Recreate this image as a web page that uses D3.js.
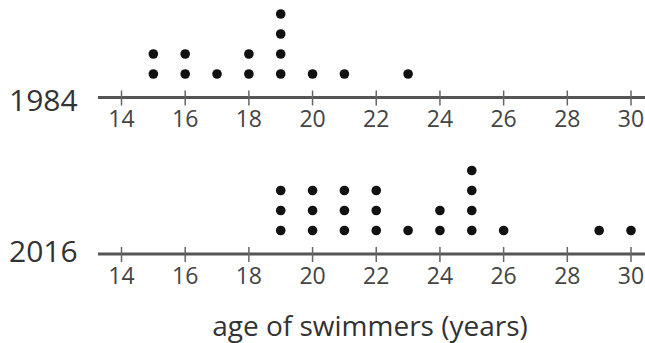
<!DOCTYPE html>
<html><head><meta charset="utf-8">
<script src="https://cdn.jsdelivr.net/npm/d3@7"></script>
<style>html,body{margin:0;padding:0;background:#fff;}svg{display:block;}</style>
</head><body>
<svg id="c" width="645" height="343"></svg>
<script>
const years = ["1984", "2016"];
const ages1984 = [15, 16, 17, 18, 19, 20, 21, 23];
const counts1984 = [2, 2, 1, 2, 4, 1, 1, 1];
const ages2016 = [19, 20, 21, 22, 23, 24, 25, 26, 29, 30];
const counts2016 = [3, 3, 3, 3, 1, 2, 4, 1, 1, 1];
const tickValues = [14, 16, 18, 20, 22, 24, 26, 28, 30];
const axisTitle = "age of swimmers (years)";

const svg = d3.select("#c");
const font = "'Open Sans', sans-serif";
const x = d3.scaleLinear().domain([14, 30]).range([121.5, 631]);
const stack = d3.scaleLinear().domain([1, 4]).range([0, -60]);

const panels = [
  {label: years[0], ages: ages1984, counts: counts1984, axisY: 97.5, labelBase: 111, tickBase: 127},
  {label: years[1], ages: ages2016, counts: counts2016, axisY: 254, labelBase: 262, tickBase: 284}
];

panels.forEach(p => {
  const g = svg.append("g");
  g.append("line").attr("x1", 98).attr("x2", 645).attr("y1", p.axisY).attr("y2", p.axisY)
    .attr("stroke", "#555").attr("stroke-width", 3);
  g.selectAll(".tick").data(tickValues).join("line")
    .attr("x1", d => x(d)).attr("x2", d => x(d))
    .attr("y1", p.axisY - 7).attr("y2", p.axisY + 8)
    .attr("stroke", "#666").attr("stroke-width", 1.5);
  g.selectAll(".tl").data(tickValues).join("text")
    .attr("x", d => x(d)).attr("y", p.tickBase)
    .attr("text-anchor", "middle").attr("font-family", font).attr("font-size", 23)
    .attr("fill", "#444").text(d => d);
  g.append("text").attr("x", 9).attr("y", p.labelBase)
    .attr("font-family", font).attr("font-size", 30).attr("fill", "#333").text(p.label);
  const pts = [];
  p.ages.forEach((a, i) => { for (let k = 1; k <= p.counts[i]; k++) pts.push({a, k}); });
  const base = p.axisY - 23.5;
  g.selectAll("circle").data(pts).join("circle")
    .attr("cx", d => x(d.a)).attr("cy", d => base + stack(d.k))
    .attr("r", 4.8).attr("fill", "#111");
});

svg.append("text").attr("x", 370).attr("y", 336).attr("text-anchor", "middle")
  .attr("font-family", font).attr("font-size", 28).attr("fill", "#333").text(axisTitle);
</script>
</body></html>
